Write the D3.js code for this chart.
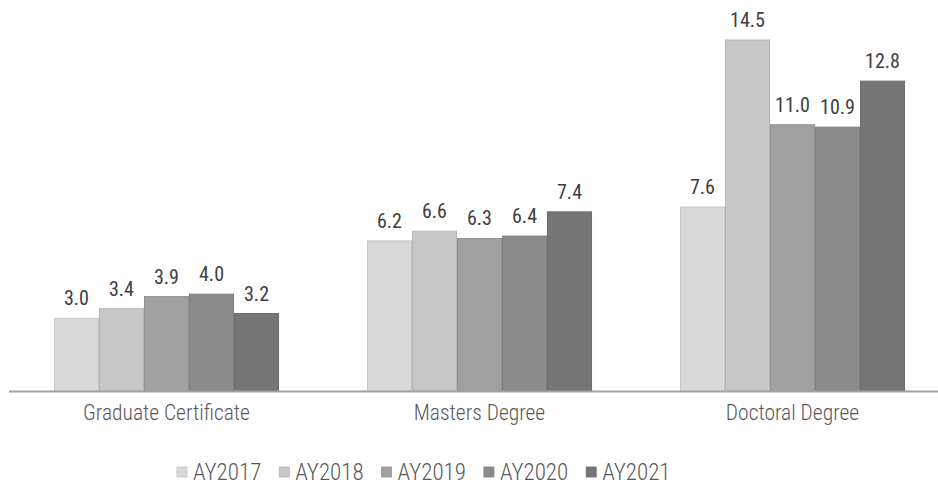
<!DOCTYPE html>
<html>
<head>
<meta charset="utf-8">
<script src="https://cdn.jsdelivr.net/npm/d3@7"></script>
<style>
  html, body { margin: 0; padding: 0; background: #ffffff; }
  svg { display: block; }
  text { font-family: "Roboto Condensed", Roboto, "Liberation Sans", sans-serif; font-weight: 400; }
</style>
</head>
<body>
<svg id="chart" width="938" height="487"></svg>
<script>
const categories = ["Graduate Certificate", "Masters Degree", "Doctoral Degree"];
const seriesNames = ["AY2017", "AY2018", "AY2019", "AY2020", "AY2021"];
const AY2017 = [3.0, 6.2, 7.6];
const AY2018 = [3.4, 6.6, 14.5];
const AY2019 = [3.9, 6.3, 11.0];
const AY2020 = [4.0, 6.4, 10.9];
const AY2021 = [3.2, 7.4, 12.8];
const seriesValues = [AY2017, AY2018, AY2019, AY2020, AY2021];
const seriesColors = ["#d9d9d9", "#c7c7c7", "#a0a0a0", "#8b8b8b", "#767676"];

const svg = d3.select("#chart");
const baseY = 391;

const x0 = d3.scaleBand().domain(categories).range([10, 949]).paddingInner(0.281).paddingOuter(0.1405);
const x1 = d3.scaleBand().domain(seriesNames).range([0, x0.bandwidth()]).padding(0);
const y = d3.scaleLinear().domain([0, 14.5]).range([baseY, 40]);

// bars
const groups = svg.append("g").selectAll("g")
  .data(categories).join("g")
  .attr("transform", d => `translate(${x0(d)},0)`);

const rows = (c, ci) => seriesNames.map((s, si) => ({ s, si, v: seriesValues[si][ci] }));

groups.selectAll("rect")
  .data(rows)
  .join("rect")
  .attr("x", d => x1(d.s) + 0.5)
  .attr("y", d => y(d.v))
  .attr("width", x1.bandwidth() - 1)
  .attr("height", d => baseY - y(d.v))
  .attr("fill", d => seriesColors[d.si])
  .attr("stroke", d => d3.color(seriesColors[d.si]).darker(0.25))
  .attr("stroke-width", 1);

// value labels
groups.selectAll("text.lbl")
  .data(rows)
  .join("text").attr("class", "lbl")
  .attr("x", d => x1(d.s) + x1.bandwidth() / 2)
  .attr("y", d => y(d.v) - 13)
  .attr("text-anchor", "middle")
  .attr("font-size", 20)
  .attr("fill", "#404040")
  .text(d => d.v.toFixed(1));

// axis line
svg.append("line")
  .attr("x1", 9).attr("x2", 938)
  .attr("y1", baseY + 0.5).attr("y2", baseY + 0.5)
  .attr("stroke", "#a3a39b").attr("stroke-width", 2);

// category axis labels
const xAxis = d3.axisBottom(x0).tickSize(0).tickPadding(0);
const axG = svg.append("g").attr("transform", `translate(0,${baseY})`).call(xAxis);
axG.select(".domain").remove();
axG.selectAll(".tick text")
  .attr("font-size", 21.5)
  .attr("fill", "#595959")
  .attr("dy", null)
  .attr("y", 29)
  .style("font-family", "\"Roboto Condensed\", Roboto, sans-serif")
  .style("font-weight", 300);

// legend
const legend = svg.append("g");
const items = legend.selectAll("g").data(seriesNames).join("g");
items.append("rect")
  .attr("width", 10).attr("height", 10)
  .attr("y", -13)
  .attr("fill", (d, i) => seriesColors[i])
  .attr("stroke", (d, i) => d3.color(seriesColors[i]).darker(0.25))
  .attr("stroke-width", 0.8);
items.append("text")
  .attr("font-size", 23)
  .style("font-weight", 300)
  .attr("fill", "#595959")
  .attr("x", 16)
  .attr("y", 0)
  .text(d => d);
const legendStep = 102.3;
const legendStart = 177;
items.attr("transform", (d, i) => `translate(${legendStart + i * legendStep},480)`);
</script>
</body>
</html>
